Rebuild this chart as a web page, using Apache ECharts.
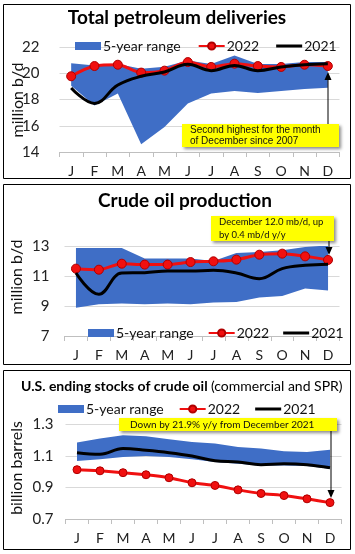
<!DOCTYPE html>
<html><head><meta charset="utf-8">
<script src="https://cdn.jsdelivr.net/npm/echarts@6/dist/echarts.min.js"></script>
<style>html,body{margin:0;padding:0;background:#fff;}#c{width:355px;height:554px;}</style>
</head><body><div id="c"></div>
<script>
const months = ['J','F','M','A','M','J','J','A','S','O','N','D'];

const deliv2022 = [19.77,20.55,20.65,20.05,20.2,20.85,20.48,20.73,20.55,20.48,20.65,20.55];
const deliv2021 = [18.88,17.7,19.1,19.77,20.1,20.68,20.2,20.6,20.2,20.48,20.65,20.73];
const delivHigh = [20.77,20.6,20.7,20.35,20.5,20.98,20.7,21.35,20.7,20.7,20.85,20.85];
const delivLow  = [19.05,17.55,18.45,14.6,15.9,17.7,18.45,18.65,18.5,18.65,18.8,18.9];

const prod2022 = [11.49,11.42,11.82,11.76,11.76,11.93,11.98,12.09,12.42,12.49,12.31,12.07];
const prod2021 = [11.2,9.78,11.2,11.22,11.33,11.33,11.38,11.2,10.82,11.49,11.71,11.78];
const prodHigh = [12.87,12.87,12.87,12.16,12.16,12.16,12.0,12.53,12.6,12.71,12.93,13.04];
const prodLow  = [8.89,9.11,9.16,9.11,9.16,9.11,9.24,9.27,9.56,9.67,10.16,10.04];

const stock2022 = [1.013,1.006,0.994,0.981,0.962,0.930,0.913,0.885,0.862,0.849,0.828,0.804];
const stock2021 = [1.121,1.111,1.147,1.136,1.121,1.100,1.070,1.062,1.045,1.051,1.045,1.026];
const stockHigh = [1.185,1.211,1.232,1.226,1.206,1.189,1.179,1.157,1.147,1.130,1.126,1.140];
const stockLow  = [1.068,1.079,1.094,1.100,1.094,1.079,1.062,1.051,1.040,1.040,1.036,1.019];

const BLUE = '#3F6EC6', RED = '#F01010', FONT = 'Lato';

function bandSeries(p, idx, high, low) {
  return [
    {name: p + ' low', type: 'line', xAxisIndex: idx, yAxisIndex: idx, stack: p,
     data: low, symbol: 'none', lineStyle: {width: 0, opacity: 0}, silent: true, z: 1},
    {name: p + ' 5-year range', type: 'line', xAxisIndex: idx, yAxisIndex: idx, stack: p,
     data: high.map((h, i) => h - low[i]), symbol: 'none',
     lineStyle: {width: 0, opacity: 0}, itemStyle: {color: BLUE},
     areaStyle: {color: BLUE, opacity: 1}, z: 1}
  ];
}
function lineSeries(p, idx, d22, d21, sm, ss) {
  return [
    {name: p + ' 2022', type: 'line', xAxisIndex: idx, yAxisIndex: idx, data: d22,
     smooth: sm, symbol: 'circle', symbolSize: ss,
     lineStyle: {color: RED, width: 3}, itemStyle: {color: RED, borderColor: '#B00000', borderWidth: 1}, z: 3},
    {name: p + ' 2021', type: 'line', xAxisIndex: idx, yAxisIndex: idx, data: d21,
     smooth: 0.4, symbol: 'none', lineStyle: {color: '#000', width: 3}, itemStyle: {color: '#000'}, z: 4}
  ];
}
function xAx(idx) {
  return {type: 'category', gridIndex: idx, data: months, boundaryGap: true,
    axisLine: {lineStyle: {color: '#BFBFBF'}},
    axisTick: {show: true, length: 5, lineStyle: {color: '#BFBFBF'}},
    axisLabel: {color: '#222', fontFamily: FONT, fontSize: 14, margin: 12}};
}
function yAx(idx, min, max, itv, dec, margin) {
  return {type: 'value', gridIndex: idx, min: min, max: max, interval: itv,
    axisLine: {show: false}, axisTick: {show: false},
    splitLine: {lineStyle: {color: '#D9D9D9'}},
    axisLabel: {color: '#222', fontFamily: FONT, fontSize: 15, margin: margin,
      formatter: v => v.toFixed(dec)}};
}
function legend(p, left, top, gap) {
  return {left: left, top: top, width: 320, itemWidth: 26, itemHeight: 9, itemGap: gap,
    selectedMode: false,
    data: [{name: p + ' 5-year range', icon: 'path://M0,0h26v8h-26z'},
           p + ' 2022',
           {name: p + ' 2021', icon: 'path://M0,0h26v3h-26z'}],
    formatter: n => n.slice(3),
    textStyle: {fontFamily: FONT, fontSize: 14, color: '#111', padding: [0, 0, 0, -3]}};
}
function frame(y, h) {
  return {type: 'rect', shape: {x: 3.5, y: y + 0.5, width: 347, height: h},
    style: {fill: null, stroke: '#000', lineWidth: 1}, z: 100};
}
function note(x, y, w, h, lines, font, tx, ty, lh) {
  const els = [{type: 'rect', shape: {x: x, y: y, width: w, height: h},
    style: {fill: '#FFFF00', shadowBlur: 3, shadowOffsetX: 2, shadowOffsetY: 2, shadowColor: 'rgba(0,0,0,0.45)'}, z: 50}];
  lines.forEach((t, i) => els.push({type: 'text', x: tx, y: ty + i * lh, z: 51,
    style: {text: t, font: font, fill: '#111', textAlign: 'left', textVerticalAlign: 'middle'}}));
  return els;
}
function arrow(x, y1, y2) {
  const dir = y2 > y1 ? 1 : -1;
  return [{type: 'line', shape: {x1: x, y1: y1, x2: x, y2: y2 - dir * 6}, style: {stroke: '#000', lineWidth: 1}, z: 52},
    {type: 'polygon', shape: {points: [[x - 3.5, y2 - dir * 8], [x + 3.5, y2 - dir * 8], [x, y2]]}, style: {fill: '#000'}, z: 52}];
}
function yName(text, x, y) {
  return {type: 'text', x: x, y: y, rotation: Math.PI / 2, z: 20,
    style: {text: text, font: '16px ' + FONT, fill: '#111', textAlign: 'center', textVerticalAlign: 'middle'}};
}

const chart = echarts.init(document.getElementById('c'), null, {renderer: 'canvas'});
chart.setOption({
  animation: false,
  backgroundColor: '#fff',
  grid: [
    {left: 59.5, width: 280, top: 47, height: 105},
    {left: 64.5, width: 275, top: 246, height: 90},
    {left: 65.5, width: 276, top: 424.5, height: 94.5}
  ],
  xAxis: [xAx(0), xAx(1), xAx(2)],
  yAxis: [yAx(0, 14, 22, 2, 0, 20), yAx(1, 7, 13, 2, 0, 15), yAx(2, 0.7, 1.3, 0.2, 1, 12)],
  legend: [legend('P1', 70, 34, 17), legend('P2', 83, 321, 14), legend('P3', 53, 397, 15)],
  series: [].concat(
    bandSeries('P1', 0, delivHigh, delivLow), lineSeries('P1', 0, deliv2022, deliv2021, 0.3, 9),
    bandSeries('P2', 1, prodHigh, prodLow), lineSeries('P2', 1, prod2022, prod2021, 0.3, 9),
    bandSeries('P3', 2, stockHigh, stockLow), lineSeries('P3', 2, stock2022, stock2021, 0.15, 8)
  ),
  graphic: [].concat(
    [frame(4, 174), frame(184, 180), frame(370, 179)],
    [{type: 'text', x: 177, y: 18, z: 20, style: {text: 'Total petroleum deliveries', font: 'bold 19px ' + FONT, fill: '#000', textAlign: 'center', textVerticalAlign: 'middle'}},
     {type: 'text', x: 185, y: 201, z: 20, style: {text: 'Crude oil production', font: 'bold 19px ' + FONT, fill: '#000', textAlign: 'center', textVerticalAlign: 'middle'}},
     {type: 'text', x: 21, y: 386, z: 20, style: {
        text: '{b|U.S. ending stocks of crude oil} {n|(commercial and SPR)}',
        rich: {b: {font: 'bold 14px ' + FONT, fill: '#000'}, n: {font: '14px ' + FONT, fill: '#000'}},
        textAlign: 'left', textVerticalAlign: 'middle'}}],
    [yName('million b/d', 18, 100), yName('million b/d', 17, 277), yName('billion barrels', 17, 468)],
    note(182, 124, 157, 23, ['Second highest for the month', 'of December since 2007'], '10px "Liberation Sans"', 190, 130, 11.5),
    arrow(328, 124, 72),
    note(211, 216, 123, 25, ['December 12.0 mb/d, up', 'by 0.4 mb/d y/y'], '9.5px ' + FONT, 219, 222, 12.5),
    arrow(329, 241, 255),
    note(119, 418, 218, 13, ['Down by 21.9% y/y from December 2021'], '10px ' + FONT, 130, 424.5, 0),
    arrow(331, 431, 498)
  )
});
</script></body></html>
